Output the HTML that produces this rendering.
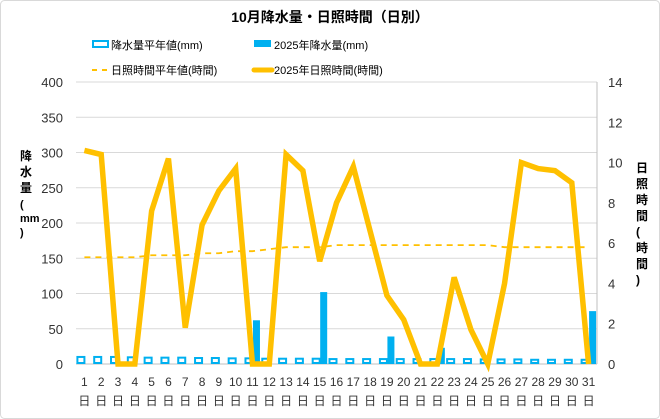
<!DOCTYPE html>
<html><head><meta charset="utf-8"><style>
body{margin:0;background:#fff;}
svg{display:block;font-family:"Liberation Sans","Noto Sans CJK JP",sans-serif;}
</style></head><body>
<svg id="c" width="660" height="419" xmlns="http://www.w3.org/2000/svg">
<rect x="0.5" y="0.5" width="659" height="418" rx="4" fill="#fff" stroke="#d9d9d9"/>
<text x="330" y="22" text-anchor="middle" font-size="14" font-weight="bold" fill="#000">10月降水量・日照時間（日別）</text>
<g>
<g><rect x="93" y="41" width="15" height="6" fill="#fff" stroke="#00b0f0" stroke-width="2"/><text x="111" y="49" font-size="11">降水量平年値(mm)</text></g>
<g><rect x="254" y="40" width="17" height="7" fill="#00b0f0"/><text x="274" y="49" font-size="11">2025年降水量(mm)</text></g>
<g><line x1="92" y1="70" x2="110" y2="70" stroke="#ffc000" stroke-width="2" stroke-dasharray="5,5"/><text x="111" y="74" font-size="11">日照時間平年値(時間)</text></g>
<g><line x1="254" y1="70" x2="272" y2="70" stroke="#ffc000" stroke-width="5" stroke-linecap="round"/><text x="274" y="74" font-size="11">2025年日照時間(時間)</text></g>
</g>
<text font-size="12" font-weight="bold"><tspan x="20" y="160">降</tspan><tspan x="20" y="176">水</tspan><tspan x="20" y="192">量</tspan><tspan x="20" y="208" font-size="11">(</tspan><tspan x="20" y="222" font-size="11">mm</tspan><tspan x="20" y="236" font-size="11">)</tspan></text>
<text font-size="12" font-weight="bold"><tspan x="636" y="172">日</tspan><tspan x="636" y="188">照</tspan><tspan x="636" y="204">時</tspan><tspan x="636" y="220">間</tspan><tspan x="636" y="236">(</tspan><tspan x="636" y="252">時</tspan><tspan x="636" y="268">間</tspan><tspan x="636" y="284">)</tspan></text>
<g id="grid"></g><g id="bars"></g><g id="lines"></g><g id="axes"></g>
</svg>
<script>
const days = ["1","2","3","4","5","6","7","8","9","10","11","12","13","14","15","16","17","18","19","20","21","22","23","24","25","26","27","28","29","30","31"];
const rainNormal = [10,10,10,9.5,9,9,9,8.5,8.5,8,8,7.5,7.5,7.5,7.5,7,7,7,7,7,7,7,7,7,6.5,6.5,6.5,6,6,6,6];
const rain2025 = [0,0,0,0,0,0,0,0,0,0,62,0,0,0,102,0,0,0,39,0,0,23,0,0,0,0,0,0,0,0,75];
const sunNormal = [5.3,5.3,5.3,5.3,5.4,5.4,5.4,5.5,5.5,5.6,5.6,5.7,5.8,5.8,5.8,5.9,5.9,5.9,5.9,5.9,5.9,5.9,5.9,5.9,5.9,5.8,5.8,5.8,5.8,5.8,5.8];
const sun2025 = [10.6,10.4,0,0,7.6,10.2,1.8,6.9,8.6,9.7,0,0,10.4,9.6,5.1,8.0,9.8,6.6,3.4,2.2,0,0,4.3,1.7,0,4.0,10.0,9.7,9.6,9.0,0];
const leftTicks = [0,50,100,150,200,250,300,350,400];
const rightTicks = [0,2,4,6,8,10,12,14];

const NS="http://www.w3.org/2000/svg";
const X0=76,X1=597,Y0=364,Y1=82;
const bw=(X1-X0)/days.length;
const xc=i=>X0+bw*(i+0.5);
const yL=v=>Y0-(v/400)*(Y0-Y1);
const yR=v=>Y0-(v/14)*(Y0-Y1);
function mk(tag,attrs,parent){const e=document.createElementNS(NS,tag);for(const k in attrs)e.setAttribute(k,attrs[k]);document.getElementById(parent).appendChild(e);return e;}
leftTicks.forEach(t=>{
 const g=mk('line',{x1:X0,x2:X1,y1:yL(t),y2:yL(t),stroke:t===0?'#bfbfbf':'#d9d9d9','stroke-width':1},'grid');
 
 
 const l=mk('text',{x:63,y:yL(t)+5,'text-anchor':'end','font-size':13,fill:'#333'},'axes');l.textContent=t;
 
 
});
const ra=mk('line',{x1:X1,x2:X1,y1:Y1,y2:Y0,stroke:'#bfbfbf'},'axes');


rightTicks.forEach(t=>{
 const l=mk('text',{x:608,y:yR(t)+5,'font-size':13,fill:'#333'},'axes');l.textContent=t;
 
 
});
days.forEach((d,i)=>{
 const t=mk('text',{x:xc(i),y:386,'text-anchor':'middle','font-size':12,fill:'#333'},'axes');t.textContent=d;
 
 
 const t2=mk('text',{x:xc(i),y:405,'text-anchor':'middle','font-size':12,fill:'#333'},'axes');t2.textContent='日';
 
 
 const n=mk('rect',{x:xc(i)-7,y:yL(rainNormal[i]),width:7,height:Y0-yL(rainNormal[i])-1,fill:'#fff',stroke:'#00b0f0','stroke-width':2},'bars');
 
 
 if(rain2025[i]>0){const b=mk('rect',{x:xc(i)+0.5,y:yL(rain2025[i]),width:7,height:Y0-yL(rain2025[i]),fill:'#00b0f0'},'bars');
 
 }
});
const p1=mk('polyline',{points:sunNormal.map((v,i)=>xc(i)+','+yR(v)).join(' '),fill:'none',stroke:'#ffc000','stroke-width':1.8,'stroke-dasharray':'6,5'},'lines');


const p2=mk('polyline',{points:sun2025.map((v,i)=>xc(i)+','+yR(v)).join(' '),fill:'none',stroke:'#ffc000','stroke-width':5.5,'stroke-linejoin':'miter'},'lines');


</script>
</body></html>
